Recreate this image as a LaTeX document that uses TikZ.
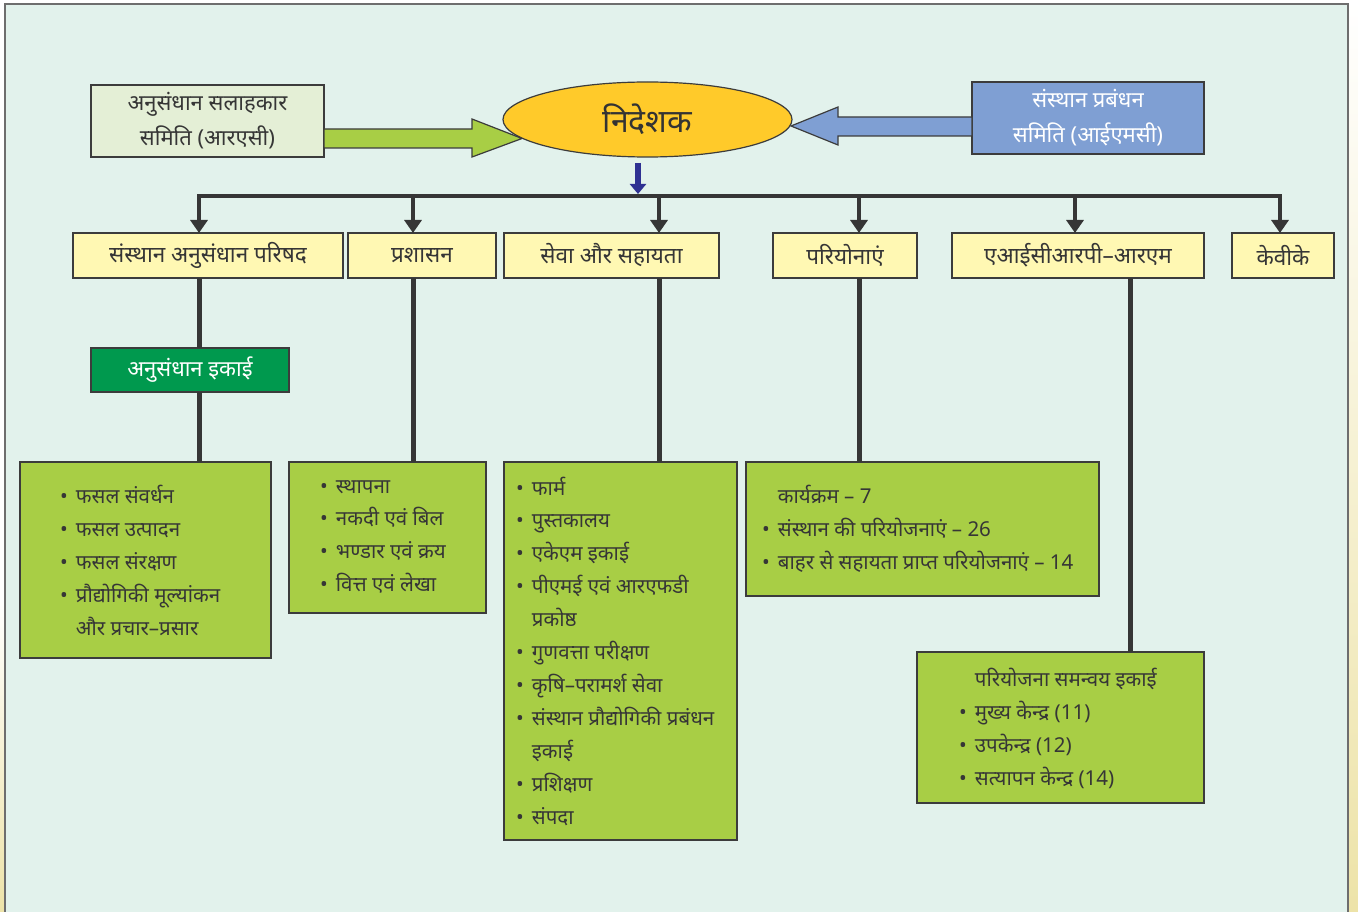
\documentclass[tikz,border=0pt]{standalone}
\usepackage{fontspec}
\setmainfont[Script=Devanagari]{Noto Sans}
\usetikzlibrary{arrows.meta,calc,shapes.geometric}
\definecolor{bg}{HTML}{E2F2EC}
\definecolor{frame}{HTML}{6E6E6E}
\definecolor{edge}{HTML}{3C3C3C}
\definecolor{txt}{HTML}{363636}
\definecolor{arsfill}{HTML}{E4EFD6}
\definecolor{yel}{HTML}{FFF8B3}
\definecolor{grn}{HTML}{A8CE45}
\definecolor{dkgrn}{HTML}{00994E}
\definecolor{blu}{HTML}{7F9FD3}
\definecolor{gold}{HTML}{FFCA2A}
\definecolor{navy}{HTML}{2E3192}
\definecolor{beige}{HTML}{EDE3A8}
\newcommand{\fsz}[1]{\fontsize{#1}{#1}\selectfont}
\newcommand{\itb}{\textbullet\hspace{0.4em}}
\newcommand{\itc}{\hphantom{\textbullet\hspace{0.4em}}}
\tikzset{
  every node/.style={inner sep=0pt, outer sep=0pt, text=txt},
  boxbase/.style={draw=edge, line width=1.5pt, anchor=north west},
  ybox/.style={boxbase, fill=yel, font=\fsz{22.5}},
  gbox/.style={boxbase, fill=grn},
  item/.style={anchor=base west, font=\fsz{20.5}},
  conn/.style={draw=txt, line width=4pt},
  vline/.style={draw=txt, line width=5pt},
  arrowconn/.style={conn, -{Triangle[length=13pt,width=17pt]}},
}
\begin{document}
\begin{tikzpicture}[x=1pt,y=-1pt]
\useasboundingbox (0,0) rectangle (1358,912);
\fill[white] (0,0) rectangle (1358,912);
\shade[top color=white, bottom color=beige] (1348,0) rectangle (1358,912);
\shade[top color=white, bottom color=beige] (0,600) rectangle (6,912);
\filldraw[fill=bg, draw=frame, line width=2pt] (5,4) rectangle (1348,940);

% top row
\node[boxbase, fill=arsfill, minimum width=233, minimum height=72, align=center, font=\fontsize{22}{35}\selectfont, text=txt] (ars) at (91,85)
  {अनुसंधान सलाहकार\\समिति (आरएसी)};
\node[boxbase, fill=blu, minimum width=232, minimum height=72, align=center, font=\fontsize{22}{35}\selectfont, text=white] (imc) at (972,82)
  {संस्थान प्रबंधन\\समिति (आईएमसी)};
\node[ellipse, draw=edge, line width=1.2pt, fill=gold, minimum width=289, minimum height=75, font=\fsz{32}\bfseries, text=black!80] (dir) at (647.5,119.5) {निदेशक};

% block arrows
\coordinate (ga0) at (ars.east |- 0,129);
\coordinate (gtip) at (522,138.5);
\filldraw[fill=grn, draw=edge, line width=1.2pt]
  (ga0) -- (472,129) -- (472,119) -- (gtip) -- (472,157) -- (472,148) -- (ars.east |- 0,148) -- cycle;
\coordinate (btip) at (791,126);
\filldraw[fill=blu, draw=edge, line width=1.2pt]
  (imc.west |- 0,117) -- (838,117) -- (838,107) -- (btip) -- (838,145) -- (838,136) -- (imc.west |- 0,136) -- cycle;

% small arrow & bus
\coordinate (sa0) at (638,163);
\coordinate (sa1) at (638,194);
\draw[navy, line width=6pt, -{Triangle[length=10pt,width=16pt]}] (sa0) -- (sa1);
\coordinate (c1) at (199,196);
\coordinate (c2) at (413,196);
\coordinate (c3) at (659,196);
\coordinate (c4) at (859,196);
\coordinate (c5) at (1075,196);
\coordinate (c6) at (1280,196);
\draw[conn, line cap=rect] (c1) -- (c6);

% level 2
\node[ybox, minimum width=270, minimum height=45] (sap) at (73,233) {संस्थान अनुसंधान परिषद};
\node[ybox, minimum width=148, minimum height=45] (pra) at (348,233) {प्रशासन};
\node[ybox, minimum width=215, minimum height=45] (sev) at (504,233) {सेवा और सहायता};
\node[ybox, minimum width=144, minimum height=45] (par) at (773,233) {परियोनाएं};
\node[ybox, minimum width=252, minimum height=45] (aic) at (952,233) {एआईसीआरपी–आरएम};
\node[ybox, minimum width=102, minimum height=45] (kvk) at (1232,233) {केवीके};

\foreach \c/\b in {c1/sap, c2/pra, c3/sev, c4/par, c5/aic, c6/kvk}
  \draw[arrowconn] (\c) -- (\c |- \b.north);

\node[boxbase, fill=dkgrn, minimum width=198, minimum height=44, font=\fsz{22}, text=white] (ru) at (91,348) {अनुसंधान इकाई};

% level 3 boxes
\node[gbox, minimum width=251, minimum height=196] (la) at (20,462) {};
\node[gbox, minimum width=197, minimum height=151] (lb) at (289,462) {};
\node[gbox, minimum width=233, minimum height=378] (lc) at (504,462) {};
\node[gbox, minimum width=353, minimum height=134] (ld) at (746,462) {};
\node[gbox, minimum width=287, minimum height=151] (le) at (917,652) {};

% vertical connectors
\draw[vline] (c1 |- sap.south) -- (c1 |- ru.north);
\draw[vline] (c1 |- ru.south) -- (c1 |- la.north);
\draw[vline] (c2 |- pra.south) -- (c2 |- lb.north);
\draw[vline] (c3 |- sev.south) -- (c3 |- lc.north);
\draw[vline] (c4 |- par.south) -- (c4 |- ld.north);
\coordinate (c7) at (1130,196);
\draw[vline] (c7 |- aic.south) -- (c7 |- le.north);

% list texts
\foreach \t [count=\i] in {{\itb फसल संवर्धन},{\itb फसल उत्पादन},{\itb फसल संरक्षण},{\itb प्रौद्योगिकी मूल्यांकन},{\itc और प्रचार–प्रसार}}
  \node[item] (a\i) at (60,{503+(\i-1)*33}) {\t};
\foreach \t [count=\i] in {{\itb स्थापना},{\itb नकदी एवं बिल},{\itb भण्डार एवं क्रय},{\itb वित्त एवं लेखा}}
  \node[item] (b\i) at (320,{493+(\i-1)*32.7}) {\t};
\foreach \t [count=\i] in {{\itb फार्म},{\itb पुस्तकालय},{\itb एकेएम इकाई},{\itb पीएमई एवं आरएफडी},{\itc प्रकोष्ठ},{\itb गुणवत्ता परीक्षण},{\itb कृषि–परामर्श सेवा},{\itb संस्थान प्रौद्योगिकी प्रबंधन},{\itc इकाई},{\itb प्रशिक्षण},{\itb संपदा}}
  \node[item] (cc\i) at (516,{495+(\i-1)*32.9}) {\t};
\foreach \t [count=\i] in {{\itc कार्यक्रम – 7},{\itb संस्थान की परियोजनाएं – 26},{\itb बाहर से सहायता प्राप्त परियोजनाएं – 14}}
  \node[item] (d\i) at (762,{503+(\i-1)*33}) {\t};
\foreach \t [count=\i] in {{\itc परियोजना समन्वय इकाई},{\itb मुख्य केन्द्र (11)},{\itb उपकेन्द्र (12)},{\itb सत्यापन केन्द्र (14)}}
  \node[item] (e\i) at (959,{686+(\i-1)*33}) {\t};
\end{tikzpicture}
\end{document}
